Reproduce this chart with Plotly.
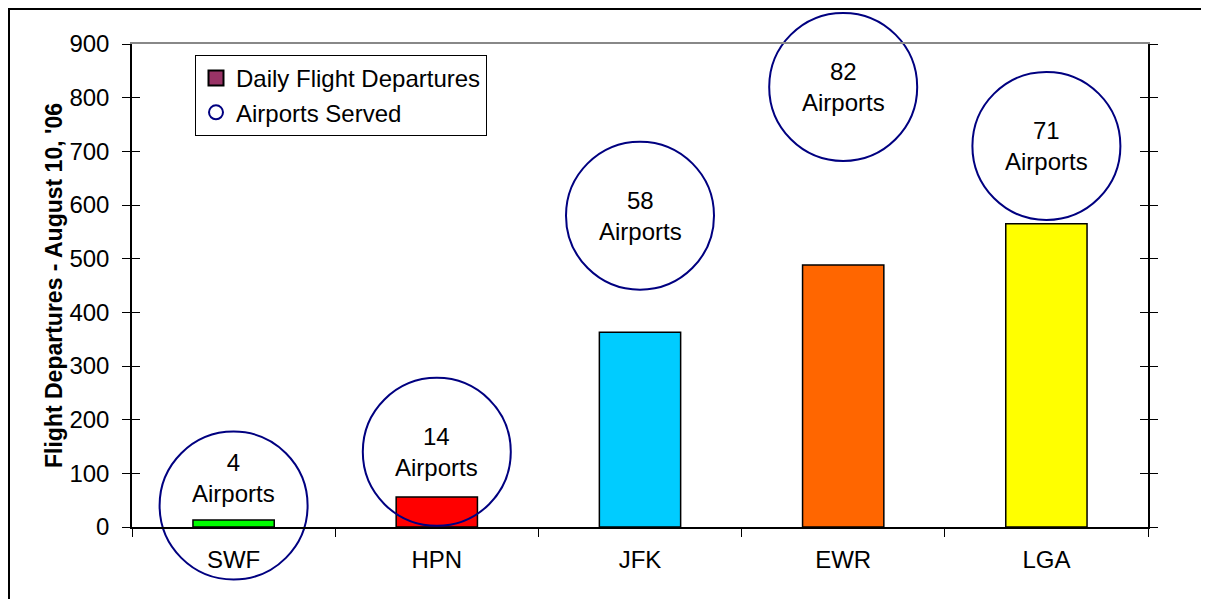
import plotly.graph_objects as go

# data
airports = ['SWF', 'HPN', 'JFK', 'EWR', 'LGA']
departures = [13, 56, 363, 488, 565]
bar_colors = ['#00FF00', '#FF0000', '#00CCFF', '#FF6600', '#FFFF00']
airports_served = [4, 14, 58, 82, 71]
bubble_y = [40, 140, 580, 820, 710]
label_shift = [28, 0, 0, 0, 0]

FONT = 'Liberation Sans, Arial, sans-serif'
NAVY = '#000080'

# the page puts the figure 8px in from the window edge
W, H = 1201, 591
xr = [-0.5, len(airports) - 0.5]

fig = go.Figure()

fig.add_trace(go.Bar(
    x=airports, y=departures, width=0.4,
    marker=dict(color=bar_colors, line=dict(color='black', width=1.5)),
    showlegend=False, hoverinfo='x+y'))

fig.add_trace(go.Scatter(
    x=airports, y=bubble_y, mode='markers', cliponaxis=False,
    marker=dict(size=148, color='rgba(0,0,0,0)', line=dict(color=NAVY, width=2)),
    customdata=airports_served, hovertemplate='%{customdata} Airports<extra></extra>',
    showlegend=False))

# legend-only entries
fig.add_trace(go.Scatter(
    x=[None], y=[None], mode='markers', name='Daily Flight Departures',
    marker=dict(symbol='square', size=15, color='#993366', line=dict(color='black', width=2))))
fig.add_trace(go.Scatter(
    x=[None], y=[None], mode='markers', name='Airports Served',
    marker=dict(symbol='circle-open', size=14, color=NAVY, line=dict(width=2))))

# empty traces so the overlay axes get drawn
fig.add_trace(go.Scatter(x=airports, y=[None]*5, yaxis='y3', showlegend=False, hoverinfo='skip'))
fig.add_trace(go.Scatter(x=airports, y=[None]*5, xaxis='x2', showlegend=False, hoverinfo='skip'))

for a, n, yv, s in zip(airports, airports_served, bubble_y, label_shift):
    fig.add_annotation(x=a, y=yv, yshift=s, text=f'{n}<br>Airports', showarrow=False,
                       font=dict(family=FONT, size=24, color='black'))

fig.update_layout(
    width=W, height=H,
    margin=dict(l=124, r=61, t=36, b=72, autoexpand=False),
    paper_bgcolor='white', plot_bgcolor='white',
    font=dict(family=FONT, size=24, color='black'),
    xaxis=dict(
        range=xr, showline=True, linecolor='black', linewidth=1.5,
        ticks='outside', ticklen=8, tickcolor='black', tickson='boundaries',
        showgrid=False, tickfont=dict(size=24), ticklabelstandoff=10, automargin=False),
    xaxis2=dict(range=xr, overlaying='x', side='top', showline=True, linecolor='#888888',
                linewidth=2, showticklabels=False, ticks='', showgrid=False, automargin=False),
    yaxis=dict(
        range=[0, 900], dtick=100, showline=True, linecolor='black', linewidth=1.5,
        ticks='outside', ticklen=8, tickcolor='black', mirror='ticks',
        showgrid=False, zeroline=False, tickfont=dict(size=24), ticklabelstandoff=8,
        automargin=False,
        title=dict(text="<b>Flight Departures - August 10, '06</b>",
                   font=dict(size=23), standoff=0)),
    yaxis3=dict(
        range=[0, 900], dtick=100, overlaying='y', anchor='x', showline=False,
        ticks='inside', ticklen=8, tickcolor='black', mirror='ticks',
        showticklabels=False, showgrid=False, zeroline=False, automargin=False),
    legend=dict(x=(195 - 132) / 1016, y=1 - (55 - 44) / 483, xanchor='left', yanchor='top',
                bordercolor='black', borderwidth=1, bgcolor='white',
                font=dict(size=24), itemwidth=30, tracegroupgap=0),
    shapes=[dict(type='rect', xref='paper', yref='paper',
                 x0=-123 / 1016, y0=-0.3, x1=1.2, y1=1 + 35 / 483,
                 line=dict(color='black', width=2), layer='below')],
)

fig.write_html('out.html')
